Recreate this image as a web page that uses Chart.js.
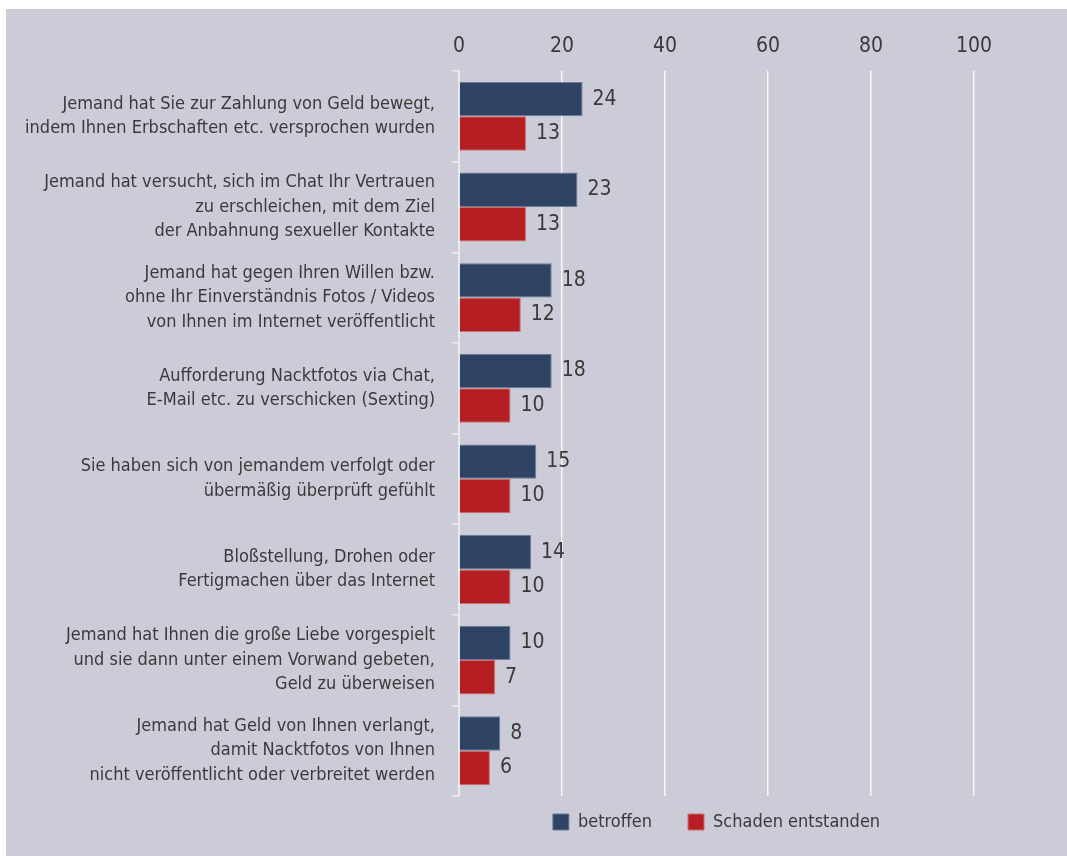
<!DOCTYPE html>
<html lang="de">
<head>
<meta charset="utf-8">
<script src="https://cdn.jsdelivr.net/npm/chart.js@4/dist/chart.umd.min.js"></script>
<style>
  body { margin: 0; background: #fff; }
  #wrap { width: 1067px; height: 856px; position: relative; }
</style>
</head>
<body>
<div id="wrap"><canvas id="chart"></canvas></div>
<script>
const categories = [
    ['Jemand hat Sie zur Zahlung von Geld bewegt,', 'indem Ihnen Erbschaften etc. versprochen wurden'],
    ['Jemand hat versucht, sich im Chat Ihr Vertrauen', 'zu erschleichen, mit dem Ziel', 'der Anbahnung sexueller Kontakte'],
    ['Jemand hat gegen Ihren Willen bzw.', 'ohne Ihr Einverständnis Fotos / Videos', 'von Ihnen im Internet veröffentlicht'],
    ['Aufforderung Nacktfotos via Chat,', 'E-Mail etc. zu verschicken (Sexting)'],
    ['Sie haben sich von jemandem verfolgt oder', 'übermäßig überprüft gefühlt'],
    ['Bloßstellung, Drohen oder', 'Fertigmachen über das Internet'],
    ['Jemand hat Ihnen die große Liebe vorgespielt', 'und sie dann unter einem Vorwand gebeten,', 'Geld zu überweisen'],
    ['Jemand hat Geld von Ihnen verlangt,', 'damit Nacktfotos von Ihnen', 'nicht veröffentlicht oder verbreitet werden']
];
const betroffen = [24, 23, 18, 18, 15, 14, 10, 8];
const schaden = [13, 13, 12, 10, 10, 10, 7, 6];
const seriesNames = ['betroffen', 'Schaden entstanden'];

const FONT = "'Liberation Sans Narrow', 'Arial Narrow', 'DejaVu Sans Condensed', sans-serif";
const TEXT = '#3a3a3a';

const backgroundPlugin = {
    id: 'bg',
    beforeDraw(chart) {
        const ctx = chart.ctx;
        ctx.save();
        ctx.fillStyle = '#ffffff';
        ctx.fillRect(0, 0, chart.width, chart.height);
        ctx.fillStyle = '#cbccd7';
        ctx.fillRect(6, 9, chart.width - 6, chart.height - 9);
        ctx.restore();
    }
};

// numbers next to the bar ends
const valueLabels = {
    id: 'valueLabels',
    afterDatasetsDraw(chart) {
        const ctx = chart.ctx;
        ctx.save();
        ctx.font = '21px ' + FONT;
        ctx.fillStyle = TEXT;
        ctx.textAlign = 'left';
        ctx.textBaseline = 'middle';
        chart.data.datasets.forEach((ds, i) => {
            chart.getDatasetMeta(i).data.forEach((bar, j) => {
                ctx.fillText(ds.data[j], bar.x + 10, bar.y);
            });
        });
        ctx.restore();
    }
};

// pull the legend row up closer to the plot
const legendShift = {
    id: 'legendShift',
    afterLayout(chart) {
        const lg = chart.legend;
        lg.top = chart.chartArea.bottom - 19;
        lg.bottom = lg.top + lg.height;
    }
};

new Chart(document.getElementById('chart'), {
    type: 'bar',
    data: {
        labels: categories,
        datasets: [{
            label: seriesNames[0],
            data: betroffen,
            backgroundColor: '#2f4364',
            borderColor: '#6b7a95',
            borderWidth: 1,
            yAxisID: 'y',
            categoryPercentage: 0.76,
            barPercentage: 1.0
        }, {
            label: seriesNames[1],
            data: schaden,
            backgroundColor: '#b51f24',
            borderColor: '#cf6c70',
            borderWidth: 1,
            yAxisID: 'y',
            categoryPercentage: 0.76,
            barPercentage: 1.0
        }]
    },
    options: {
        indexAxis: 'y',
        responsive: true,
        maintainAspectRatio: false,
        animation: false,
        layout: { padding: { top: 9, right: 93, left: 0, bottom: 0 } },
        scales: {
            x: {
                type: 'linear',
                position: 'top',
                min: 0,
                max: 100,
                ticks: { stepSize: 20, color: TEXT, font: { family: FONT, size: 21 }, padding: 12 },
                grid: { color: 'rgba(255,255,255,0.85)', lineWidth: 1.5, drawTicks: false },
                border: { display: false },
                afterFit(scale) { scale.height = 62; }
            },
            y: {
                type: 'category',
                position: 'left',
                weight: 1,
                grid: { display: false },
                border: { display: false },
                ticks: { color: TEXT, font: { family: FONT, size: 18, lineHeight: 1.35 }, padding: 9 },
                afterFit(scale) { scale.width = 452; }
            },
            y2: {
                type: 'linear',
                position: 'left',
                weight: 0,
                min: 0,
                max: 7,
                ticks: { display: false, stepSize: 1 },
                grid: { drawOnChartArea: false, color: '#ececf0', lineWidth: 1.5, tickLength: 7 },
                border: { color: '#ececf0', width: 2 },
                afterFit(scale) { scale.width = 7; }
            }
        },
        plugins: {
            legend: {
                position: 'bottom',
                fullSize: false,
                maxHeight: 60,
                labels: {
                    boxWidth: 16,
                    boxHeight: 16,
                    padding: 36,
                    color: TEXT,
                    font: { family: FONT, size: 18 }
                }
            },
            tooltip: { enabled: false }
        }
    },
    plugins: [backgroundPlugin, valueLabels, legendShift]
});
</script>
</body>
</html>
